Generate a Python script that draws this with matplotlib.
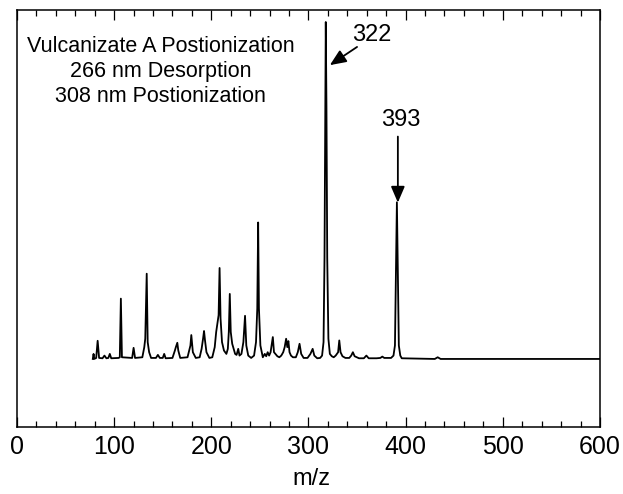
import matplotlib
matplotlib.use("Agg")
import matplotlib.pyplot as plt
from matplotlib.ticker import MultipleLocator

plt.rcParams['font.family'] = ['Liberation Sans', 'DejaVu Sans']

mz = [78, 78.8, 79.5, 81.5, 83, 84.5, 88, 90, 92, 94, 95.5, 97,
      104.5, 105.8, 106.9, 108, 118.5, 120, 121.5,
      129, 131, 132, 133.5, 134.5, 136, 138, 143, 145, 147, 150, 151.5, 153,
      160, 162.5, 163.5, 165, 166, 168, 175.5, 178.5, 179.4, 181, 184,
      188, 190, 191.5, 192.5, 193.5, 195, 198, 201, 203.5, 205, 206, 207.5,
      208.5, 209.5, 211, 213, 215.5, 217, 218, 219, 220, 221.5, 223, 224.5,
      226, 227.7, 229, 231, 233, 234.7, 236, 238, 241, 244, 246, 247.3,
      248.2, 249, 250.5, 253, 255, 256.5, 258, 259.5, 261, 263.3, 264.5,
      266, 268, 270, 272, 274, 275.5, 277, 278.2, 279.3, 280.5, 282, 284,
      287, 289, 290.8, 292.5, 295, 299, 302, 304.3, 306, 309, 312, 314,
      315.5, 316.5, 317.3, 317.8, 318.5, 319.3, 320.5, 322, 324, 326, 328,
      330.5, 331.7, 333, 335, 338, 342, 344, 345.7, 347.5, 352, 357, 359.6,
      362, 370, 374, 376, 378, 385, 387.5, 389, 390, 391, 392, 393, 394.5,
      396, 430, 433, 436, 600]
intensity = [0, 1.5, 0, 0.3, 5.4, 0.3, 0.2, 1.0, 0.2, 0.3, 1.5, 0.2,
             0.3, 0.5, 17.9, 0.5, 0.3, 3.3, 0.3,
             0.5, 3.5, 6, 25.3, 5, 2, 0.3, 0.3, 1.2, 0.3, 0.3, 1.5, 0.2,
             0.3, 2.5, 3.5, 4.8, 2.5, 0.3, 0.5, 4, 7.1, 2, 0.3,
             0.5, 3, 6, 8.3, 5.5, 2, 0.3, 0.5, 3.5, 8, 10, 13,
             27, 12, 5, 2.5, 1.5, 3, 8, 19.3, 8, 4.5, 3, 1.5,
             1.2, 3, 1, 1.5, 5, 12.8, 4, 1, 0.3, 1, 5, 15,
             40.5, 15, 4, 0.5, 1.5, 0.8, 2, 1, 2, 6.5, 2,
             1.5, 0.8, 0.5, 1, 2, 3.5, 6, 3.5, 5.3, 2, 1, 0.5,
             0.5, 2, 4.5, 1.5, 0.3, 0.3, 1.5, 3, 1, 0.2, 0.3, 1,
             5, 30, 75, 100, 75, 30, 6, 1.5, 0.8, 0.5, 1,
             2, 5.5, 2, 0.8, 0.3, 0.3, 1, 2, 0.8, 0.2, 0.2, 1,
             0.2, 0.2, 0.3, 0.7, 0.3, 0.3, 1, 4, 25, 46.5, 25, 4, 1,
             0.2, 0, 0.5, 0, 0]

xticks = [0, 100, 200, 300, 400, 500, 600]
title_lines = ["Vulcanizate A Postionization", "266 nm Desorption", "308 nm Postionization"]

fig = plt.figure(figsize=(6.23, 4.94), dpi=100)
ax = fig.add_axes([0.0273, 0.1356, 0.9357, 0.8444])

ax.plot(mz, intensity, color='black', lw=1.3)

ax.set_xlim(0, 600)
ax.set_ylim(-20.2, 103.6)
ax.set_xticks(xticks)
ax.set_xticklabels([str(t) for t in xticks])
ax.xaxis.set_minor_locator(MultipleLocator(20))
ax.set_yticks([])
ax.tick_params(axis='x', which='both', direction='in', top=True, bottom=True,
               labelsize=18, pad=6, width=0.9)
ax.tick_params(axis='x', which='major', length=7)
ax.tick_params(axis='x', which='minor', length=4)
for s in ax.spines.values():
    s.set_linewidth(1.1)

ax.text(148, 85.4, "\n".join(title_lines), ha='center', va='center',
        fontsize=15.5, linespacing=1.25)

# peak labels with arrows
ax.text(365, 96, "322", ha='center', va='center', fontsize=17)
ax.annotate('', xy=(322, 87.2), xytext=(350, 92.6),
            arrowprops=dict(arrowstyle='-|>,head_length=0.7,head_width=0.3',
                            color='black', lw=1.3, mutation_scale=14,
                            shrinkA=0, shrinkB=0))
ax.text(395, 70.8, "393", ha='center', va='center', fontsize=17)
ax.annotate('', xy=(392, 46.4), xytext=(392, 66),
            arrowprops=dict(arrowstyle='-|>,head_length=0.7,head_width=0.3',
                            color='black', lw=1.3, mutation_scale=14,
                            shrinkA=0, shrinkB=0))

fig.text(0.5, 0.03, "m/z", ha='center', va='center', fontsize=17)

fig.savefig("out.png", dpi=100)
